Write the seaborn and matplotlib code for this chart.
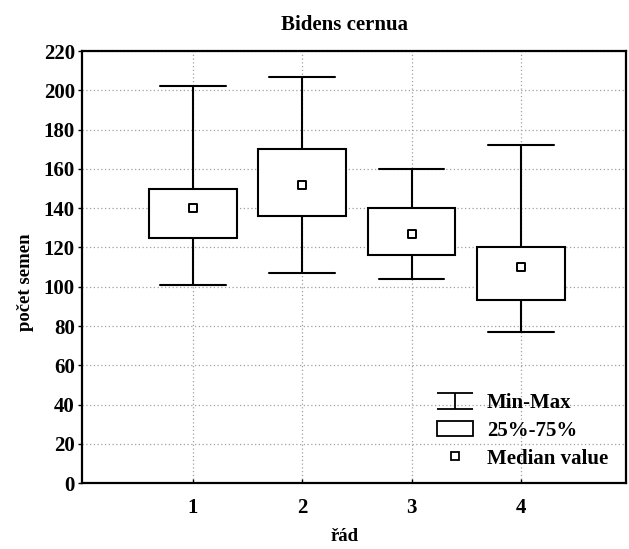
import matplotlib
matplotlib.use("Agg")
import matplotlib.pyplot as plt
import numpy as np
import pandas as pd
import seaborn as sns
from matplotlib.path import Path
from matplotlib.lines import Line2D
from matplotlib.patches import Patch

# Five-number summaries of seed counts per order (řád)
rad = [1, 2, 3, 4]
minimum = [101, 107, 104, 77]
q25 = [125, 136, 116, 93]
median = [140, 152, 127, 110]
q75 = [150, 170, 140, 120]
maximum = [202, 207, 160, 172]

y_ticks = [0, 20, 40, 60, 80, 100, 120, 140, 160, 180, 200, 220]
legend_labels = ["Min-Max", "25%-75%", "Median value"]

# With five values per group, the 0/25/50/75/100 percentiles are exactly the summary
rows = []
for r, lo, a, m, b, hi in zip(rad, minimum, q25, median, q75, maximum):
    for v in (lo, a, m, b, hi):
        rows.append({"rad": r, "pocet": v})
df = pd.DataFrame(rows)
med_df = pd.DataFrame({"rad": rad, "median": median})

sns.set_theme(style="white")
plt.rcParams["font.family"] = ["Liberation Serif", "DejaVu Serif"]
plt.rcParams["font.weight"] = "bold"
for key in ["text.color", "axes.labelcolor", "xtick.color", "ytick.color"]:
    plt.rcParams[key] = "black"

fig = plt.figure(figsize=(6.29, 5.49), dpi=100)
ax = fig.add_axes([0.130, 0.120, 0.865, 0.787])

lw = 1.5
sns.boxplot(
    data=df, x="rad", y="pocet", native_scale=True, whis=(0, 100),
    width=0.8, color="white", linecolor="black", linewidth=lw,
    fill=True, showfliers=False, capwidths=0.6,
    medianprops={"visible": False}, ax=ax, zorder=3,
)
sns.scatterplot(
    data=med_df, x="rad", y="median", marker="s", s=34,
    facecolor="white", edgecolor="black", linewidth=1.4, ax=ax, zorder=5,
)

ax.set_xlim(-0.015, 4.96)
ax.set_ylim(0, 220)
ax.set_xticks(rad)
ax.set_xticklabels([str(r) for r in rad])
ax.set_yticks(y_ticks)
ax.set_yticklabels([str(t) for t in y_ticks])
ax.tick_params(axis="y", labelsize=15, length=3, width=1, direction="out",
               left=True, pad=2, color="black")
ax.tick_params(axis="x", labelsize=15, length=3, width=1, direction="in",
               bottom=True, pad=11, color="black")

ax.grid(True, color="#a0a0a0", linestyle=(0, (1, 2)), linewidth=0.9)
ax.set_axisbelow(True)
for side in ["left", "bottom", "top", "right"]:
    ax.spines[side].set_visible(True)
    ax.spines[side].set_color("black")
    ax.spines[side].set_linewidth(1.6)

ax.set_title("Bidens cernua", fontsize=15, fontweight="bold", pad=15, x=0.483)
ax.set_ylabel("počet semen", fontsize=13.5, fontweight="bold")
ax.yaxis.set_label_coords(-0.088, 0.465)
ax.set_xlabel("řád", fontsize=13.5, fontweight="bold")
ax.xaxis.set_label_coords(0.484, -0.105)

# Legend symbols: min-max bracket, interquartile box, median square
bracket = Path(
    [(-1, 0.47), (1, 0.47), (0, 0.47), (0, -0.47), (-1, -0.47), (1, -0.47)],
    [Path.MOVETO, Path.LINETO, Path.MOVETO, Path.LINETO, Path.MOVETO, Path.LINETO],
)
handles = [
    Line2D([], [], marker=bracket, markersize=26, linestyle="none",
           markeredgecolor="black", markeredgewidth=1.3, color="black"),
    Patch(facecolor="white", edgecolor="black", linewidth=1.3),
    Line2D([], [], marker="s", markersize=5.5, linestyle="none",
           markerfacecolor="white", markeredgecolor="black", markeredgewidth=1.3),
]
ax.legend(handles, legend_labels, loc="upper left", bbox_to_anchor=(0.645, 0.218),
          frameon=False, fontsize=15, handlelength=1.75, handleheight=0.7,
          handletextpad=0.65, labelspacing=0.37, borderaxespad=0, borderpad=0.2)

fig.savefig("out.png", dpi=100, facecolor="white")
